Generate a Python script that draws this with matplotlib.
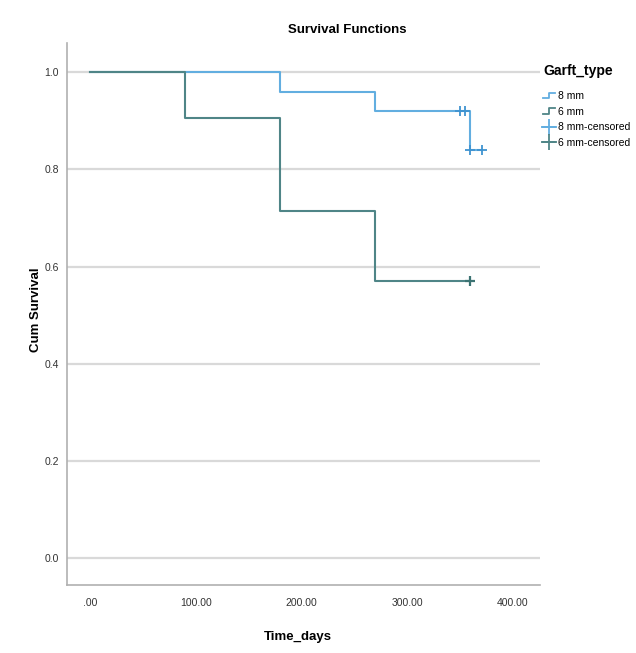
import matplotlib
matplotlib.use("Agg")
import matplotlib.pyplot as plt
from matplotlib.lines import Line2D
from matplotlib.legend_handler import HandlerBase
import matplotlib.font_manager as fm

names = {f.name for f in fm.fontManager.ttflist}
FONT = ['Liberation Sans Narrow', 'Liberation Sans', 'DejaVu Sans'] if 'Liberation Sans Narrow' in names else ['Liberation Sans', 'DejaVu Sans']
plt.rcParams['font.family'] = FONT

# Data
t8 = [0, 180, 270, 360, 370]
s8 = [1.0, 0.96, 0.92, 0.84, 0.84]
c8_t = [350, 355, 360, 371]
c8_s = [0.92, 0.92, 0.84, 0.84]

t6 = [0, 90, 180, 270, 360]
s6 = [1.0, 0.905, 0.714, 0.571, 0.571]
c6_t = [360]
c6_s = [0.571]

xticks = [0, 100, 200, 300, 400]
xticklabels = ['.00', '100.00', '200.00', '300.00', '400.00']
yticks = [0.0, 0.2, 0.4, 0.6, 0.8, 1.0]
yticklabels = ['0.0', '0.2', '0.4', '0.6', '0.8', '1.0']

C8 = '#62aee0'
C6 = '#4f8587'

fig = plt.figure(figsize=(6.36, 6.53), dpi=100)
ax = fig.add_axes([67/636, 1-585/653, (540-67)/636, (585-43)/653])

ax.step(t8, s8, where='post', color=C8, lw=1.5, zorder=3)
ax.step(t6, s6, where='post', color=C6, lw=1.5, zorder=4)
ax.plot(c8_t, c8_s, ls='none', marker='+', ms=7, mew=1.3, color='#3f93d0', zorder=5)
ax.plot(c6_t, c6_s, ls='none', marker='+', ms=7, mew=1.6, color='#3c7373', zorder=5)

ax.set_xlim(-22, 426)
ax.set_ylim(-0.055, 1.06)
ax.set_yticks(yticks)
ax.set_yticklabels(yticklabels)
ax.set_xticks(xticks)
ax.set_xticklabels(xticklabels)
ax.grid(axis='y', color='#d9d9d9', lw=1.6, zorder=0)
ax.tick_params(axis='both', labelsize=7.5, colors='#333333', length=0, pad=9)
ax.tick_params(axis='y', pad=6)
for s in ['top', 'right']:
    ax.spines[s].set_visible(False)
for s in ['left', 'bottom']:
    ax.spines[s].set_color('#b0b0b0')
    ax.spines[s].set_linewidth(1.2)

fig.text(347/636, 1-30/653, 'Survival Functions', ha='center', va='center', fontsize=9.5, fontweight='bold')
fig.text(298/636, 1-637/653, 'Time_days', ha='center', va='center', fontsize=9.5, fontweight='bold')
fig.text(36/636, 1-310/653, 'Cum Survival', ha='center', va='center', rotation=90, fontsize=9.5, fontweight='bold')


class StepHandler(HandlerBase):
    def __init__(self, color):
        super().__init__()
        self.color = color

    def create_artists(self, legend, orig, xd, yd, w, h, fs, trans):
        xs = [xd, xd + w*0.5, xd + w*0.5, xd + w]
        ys = [yd + h*0.1, yd + h*0.1, yd + h*0.85, yd + h*0.85]
        ln = Line2D(xs, ys, color=self.color, lw=1.3, transform=trans)
        return [ln]


h8 = Line2D([], [], color=C8)
h6 = Line2D([], [], color=C6)
hc8 = Line2D([], [], color=C8, marker='+', ms=11, lw=1.3, mew=1.3)
hc6 = Line2D([], [], color=C6, marker='+', ms=11, lw=1.3, mew=1.3)
leg = fig.legend([h8, h6, hc8, hc6], ['8 mm', '6 mm', '8 mm-censored', '6 mm-censored'],
                 handler_map={h8: StepHandler(C8), h6: StepHandler(C6)},
                 loc='upper left', bbox_to_anchor=(536/636, 1-57/653), frameon=False,
                 title='Garft_type', fontsize=7.5, handlelength=1.1, handletextpad=0.3,
                 labelspacing=0.55, borderpad=0.2, alignment='left')
leg.get_title().set_fontsize(10)
leg.get_title().set_fontweight('bold')
leg._legend_box.sep = 9

fig.savefig('out.png', dpi=100)
